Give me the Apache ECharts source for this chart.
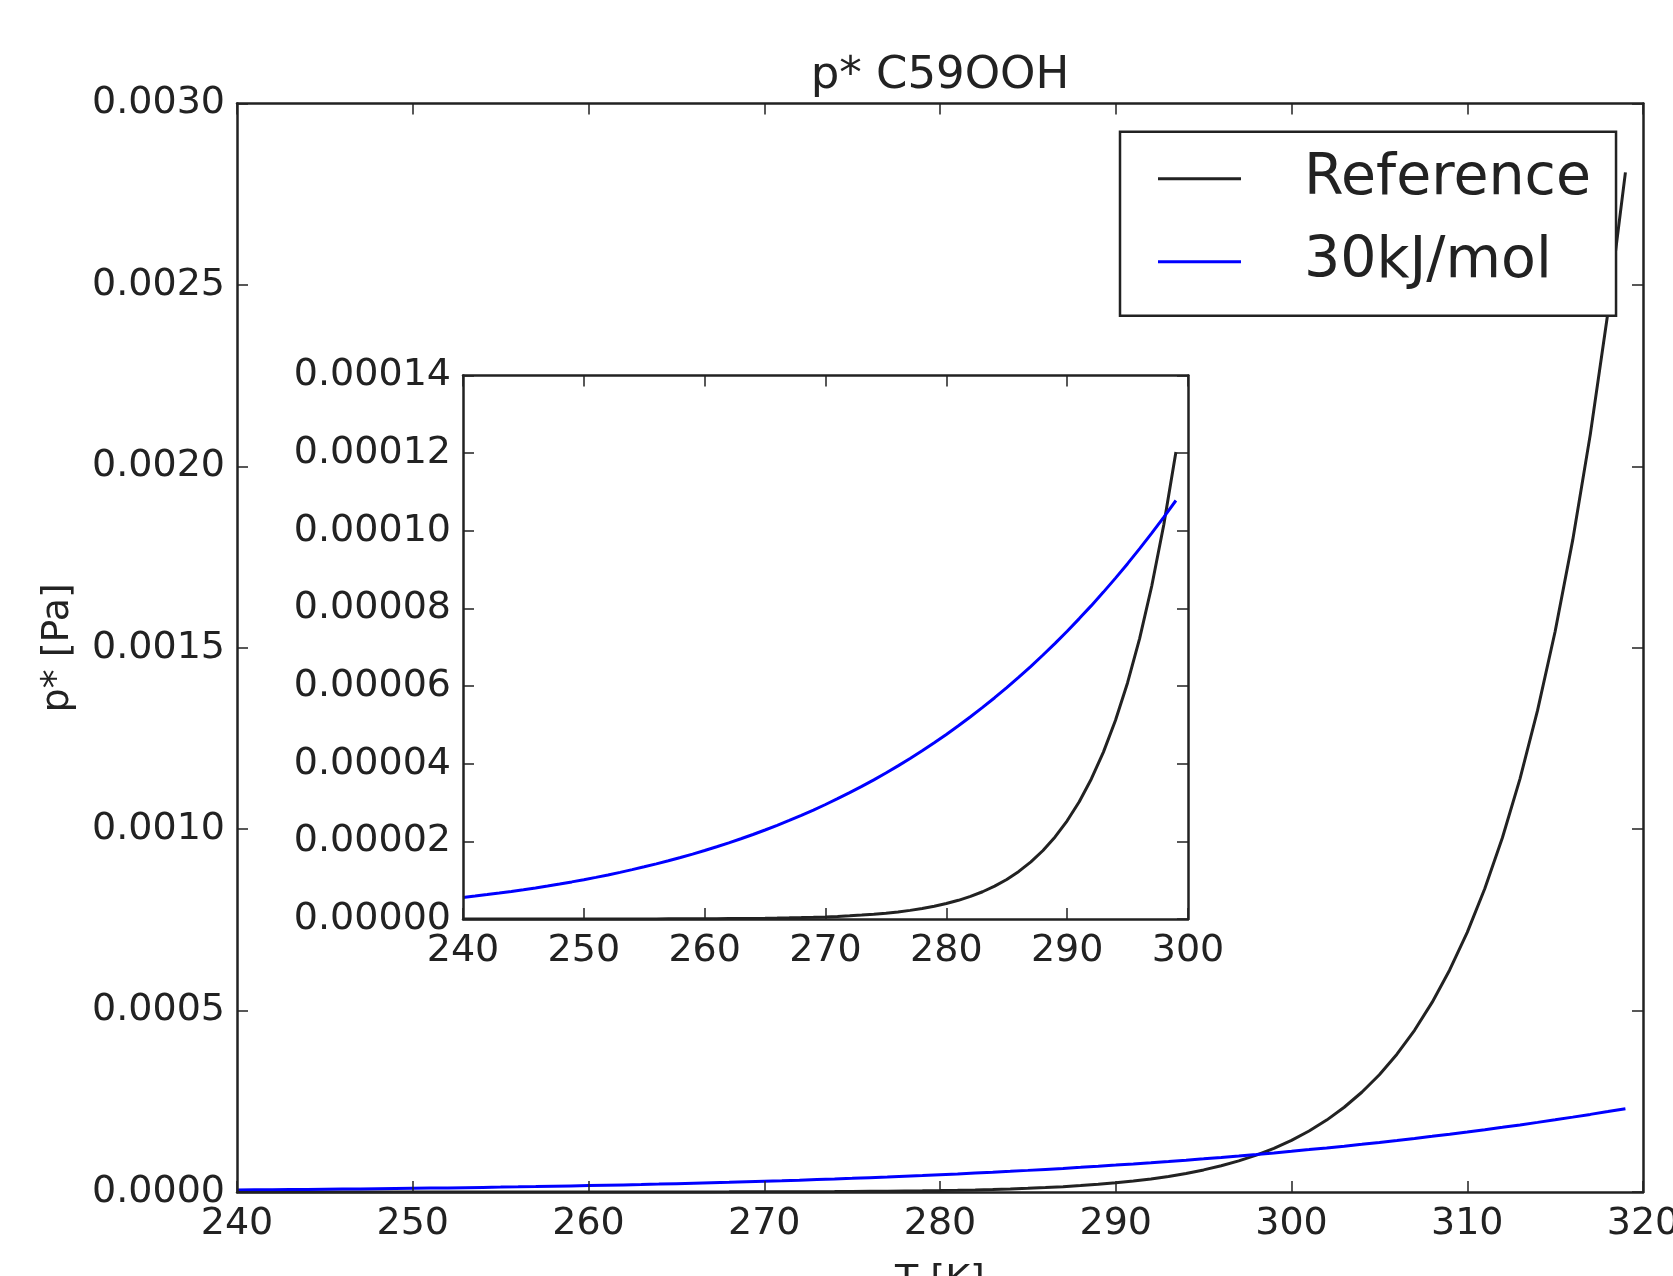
<!DOCTYPE html>
<html>
<head>
<meta charset="utf-8">
<script src="https://cdn.jsdelivr.net/npm/echarts@6/dist/echarts.min.js"></script>
<style>
html,body{margin:0;padding:0;background:#fff;}
#chart{width:1673px;height:1276px;}
</style>
</head>
<body>
<div id="chart"></div>
<script>
var titleText = 'p* C59OOH';
var xAxisName = 'T [K]';
var yAxisName = 'p* [Pa]';
var seriesNames = ['Reference', '30kJ/mol'];

var temperatures = [240,241,242,243,244,245,246,247,248,249,250,251,252,253,254,255,256,257,258,259,
  260,261,262,263,264,265,266,267,268,269,270,271,272,273,274,275,276,277,278,279,
  280,281,282,283,284,285,286,287,288,289,290,291,292,293,294,295,296,297,298,299,
  300,301,302,303,304,305,306,307,308,309,310,311,312,313,314,315,316,317,318,319];

var referenceP = [5.19e-10,6.73e-10,8.70e-10,1.12e-9,1.45e-9,1.86e-9,2.39e-9,3.06e-9,3.91e-9,4.99e-9,
  6.35e-9,8.06e-9,1.02e-8,1.29e-8,1.64e-8,2.06e-8,2.60e-8,3.26e-8,4.09e-8,5.12e-8,
  6.41e-8,7.99e-8,9.96e-8,1.24e-7,1.54e-7,1.91e-7,2.36e-7,2.91e-7,3.60e-7,4.43e-7,
  5.45e-7,6.69e-7,8.20e-7,1.004e-6,1.227e-6,1.498e-6,1.826e-6,2.223e-6,2.702e-6,3.279e-6,
  3.975e-6,4.811e-6,5.815e-6,7.020e-6,8.463e-6,1.019e-5,1.225e-5,1.471e-5,1.765e-5,2.114e-5,
  2.529e-5,3.022e-5,3.607e-5,4.299e-5,5.119e-5,6.087e-5,7.229e-5,8.577e-5,1.0164e-4,1.203e-4,
  1.422e-4,1.680e-4,1.982e-4,2.336e-4,2.749e-4,3.233e-4,3.798e-4,4.457e-4,5.225e-4,6.119e-4,
  7.157e-4,8.364e-4,9.764e-4,1.1388e-3,1.3272e-3,1.5448e-3,1.7966e-3,2.0874e-3,2.4228e-3,2.810e-3];

var kj30P = [5.551e-6,5.907e-6,6.285e-6,6.682e-6,7.102e-6,7.544e-6,8.009e-6,8.500e-6,9.014e-6,9.557e-6,
  1.0126e-5,1.0726e-5,1.1356e-5,1.2017e-5,1.2710e-5,1.3440e-5,1.4203e-5,1.5003e-5,1.5844e-5,1.6721e-5,
  1.7642e-5,1.8605e-5,1.9613e-5,2.0671e-5,2.1769e-5,2.2922e-5,2.4126e-5,2.5383e-5,2.6695e-5,2.8066e-5,
  2.9496e-5,3.0986e-5,3.2543e-5,3.4164e-5,3.5848e-5,3.7609e-5,3.9439e-5,4.1341e-5,4.3330e-5,4.539e-5,
  4.754e-5,4.976e-5,5.209e-5,5.450e-5,5.700e-5,5.960e-5,6.229e-5,6.509e-5,6.800e-5,7.101e-5,
  7.413e-5,7.738e-5,8.072e-5,8.420e-5,8.781e-5,9.153e-5,9.540e-5,9.940e-5,1.0353e-4,1.0780e-4,
  1.1223e-4,1.1681e-4,1.2153e-4,1.2640e-4,1.3147e-4,1.3670e-4,1.4207e-4,1.4764e-4,1.5337e-4,1.5931e-4,
  1.6542e-4,1.7172e-4,1.7823e-4,1.8494e-4,1.9188e-4,1.9900e-4,2.0634e-4,2.1389e-4,2.2171e-4,2.2972e-4];

// inset shows temperatures up to this limit
var insetTempMax = 299;

var mainXTicks = {min: 240, max: 320, interval: 10};
var mainYTicks = {min: 0, max: 0.003, interval: 0.0005};
var insetXTicks = {min: 240, max: 300, interval: 10};
var insetYTicks = {min: 0, max: 0.00014, interval: 0.00002};

function pairs(ts, vs, tmax) {
  var out = [];
  for (var i = 0; i < ts.length; i++) {
    if (tmax === undefined || ts[i] <= tmax) out.push([ts[i], vs[i]]);
  }
  return out;
}

var FONT = 'DejaVu Sans';
var TXT = '#222';
var AX = '#222';
var TICK_FS = 38;

function axisBase(gridIndex, ticks, pos, showLabel, labelFmt, margin, z) {
  return {
    type: 'value', gridIndex: gridIndex, position: pos, z: z,
    min: ticks.min, max: ticks.max, interval: ticks.interval,
    axisLine: {show: true, onZero: false, lineStyle: {color: AX, width: 2.5}},
    axisTick: {show: true, inside: true, length: 11, lineStyle: {color: AX, width: 1.5}},
    splitLine: {show: false},
    axisLabel: {show: showLabel, formatter: labelFmt, margin: margin,
      color: TXT, fontFamily: FONT, fontSize: TICK_FS}
  };
}

var chart = echarts.init(document.getElementById('chart'), null, {renderer: 'canvas'});

var mainGrid = {left: 237, top: 103.5, width: 1406, height: 1088.5};
var insetGrid = {left: 463, top: 375.5, width: 725, height: 543.5};

var xMain = axisBase(0, mainXTicks, 'bottom', true, function(v){return String(v);}, 13, 3);
xMain.name = xAxisName; xMain.nameLocation = 'middle'; xMain.nameGap = 70;
xMain.nameTextStyle = {color: TXT, fontFamily: FONT, fontSize: TICK_FS};
var xMainTop = axisBase(0, mainXTicks, 'top', false, null, 8, 3);
var yMain = axisBase(0, mainYTicks, 'left', true, function(v){return v.toFixed(4);}, 12, 3);
yMain.name = yAxisName; yMain.nameLocation = 'middle'; yMain.nameGap = 160;
yMain.nameTextStyle = {color: TXT, fontFamily: FONT, fontSize: TICK_FS};
var yMainRight = axisBase(0, mainYTicks, 'right', false, null, 8, 3);

var xIn = axisBase(1, insetXTicks, 'bottom', true, function(v){return String(v);}, 13, 8);
var xInTop = axisBase(1, insetXTicks, 'top', false, null, 8, 8);
var yIn = axisBase(1, insetYTicks, 'left', true, function(v){return v.toFixed(5);}, 12, 8);
var yInRight = axisBase(1, insetYTicks, 'right', false, null, 8, 8);

var lineW = 3;
var colors = ['#222222', '#0000ff'];

var option = {
  animation: false,
  backgroundColor: '#fff',
  title: {
    text: titleText, left: 935, top: 49, textAlign: 'center',
    textStyle: {color: TXT, fontFamily: FONT, fontSize: 45, fontWeight: 'normal'}
  },
  legend: {
    data: seriesNames,
    orient: 'vertical', align: 'left',
    left: 1120, top: 131.7,
    padding: [15, 25, 22, 38],
    itemGap: 19,
    itemWidth: 83, itemHeight: 3,
    icon: 'rect',
    backgroundColor: '#fff',
    borderColor: AX, borderWidth: 2.5, borderRadius: 0,
    textStyle: {color: TXT, fontFamily: FONT, fontSize: 57, lineHeight: 48, padding: [16, 0, 0, 58]},
    z: 20
  },
  grid: [
    Object.assign({show: false, outerBoundsMode: 'none', containLabel: false, z: 0}, mainGrid),
    Object.assign({show: true, outerBoundsMode: 'none', containLabel: false, backgroundColor: '#fff', borderWidth: 0, z: 5}, insetGrid)
  ],
  xAxis: [xMain, xMainTop, xIn, xInTop],
  yAxis: [yMain, yMainRight, yIn, yInRight],
  series: [
    {name: seriesNames[0], type: 'line', xAxisIndex: 0, yAxisIndex: 0, data: pairs(temperatures, referenceP),
     showSymbol: false, symbol: 'none', lineStyle: {color: colors[0], width: lineW}, itemStyle: {color: colors[0]}, clip: true, z: 2},
    {name: seriesNames[1], type: 'line', xAxisIndex: 0, yAxisIndex: 0, data: pairs(temperatures, kj30P),
     showSymbol: false, symbol: 'none', lineStyle: {color: colors[1], width: lineW}, itemStyle: {color: colors[1]}, clip: true, z: 2},
    {name: seriesNames[0], type: 'line', xAxisIndex: 2, yAxisIndex: 2, data: pairs(temperatures, referenceP, insetTempMax),
     showSymbol: false, symbol: 'none', lineStyle: {color: colors[0], width: lineW}, itemStyle: {color: colors[0]}, clip: true, z: 6},
    {name: seriesNames[1], type: 'line', xAxisIndex: 2, yAxisIndex: 2, data: pairs(temperatures, kj30P, insetTempMax),
     showSymbol: false, symbol: 'none', lineStyle: {color: colors[1], width: lineW}, itemStyle: {color: colors[1]}, clip: true, z: 6}
  ]
};
chart.setOption(option);
</script>
</body>
</html>
